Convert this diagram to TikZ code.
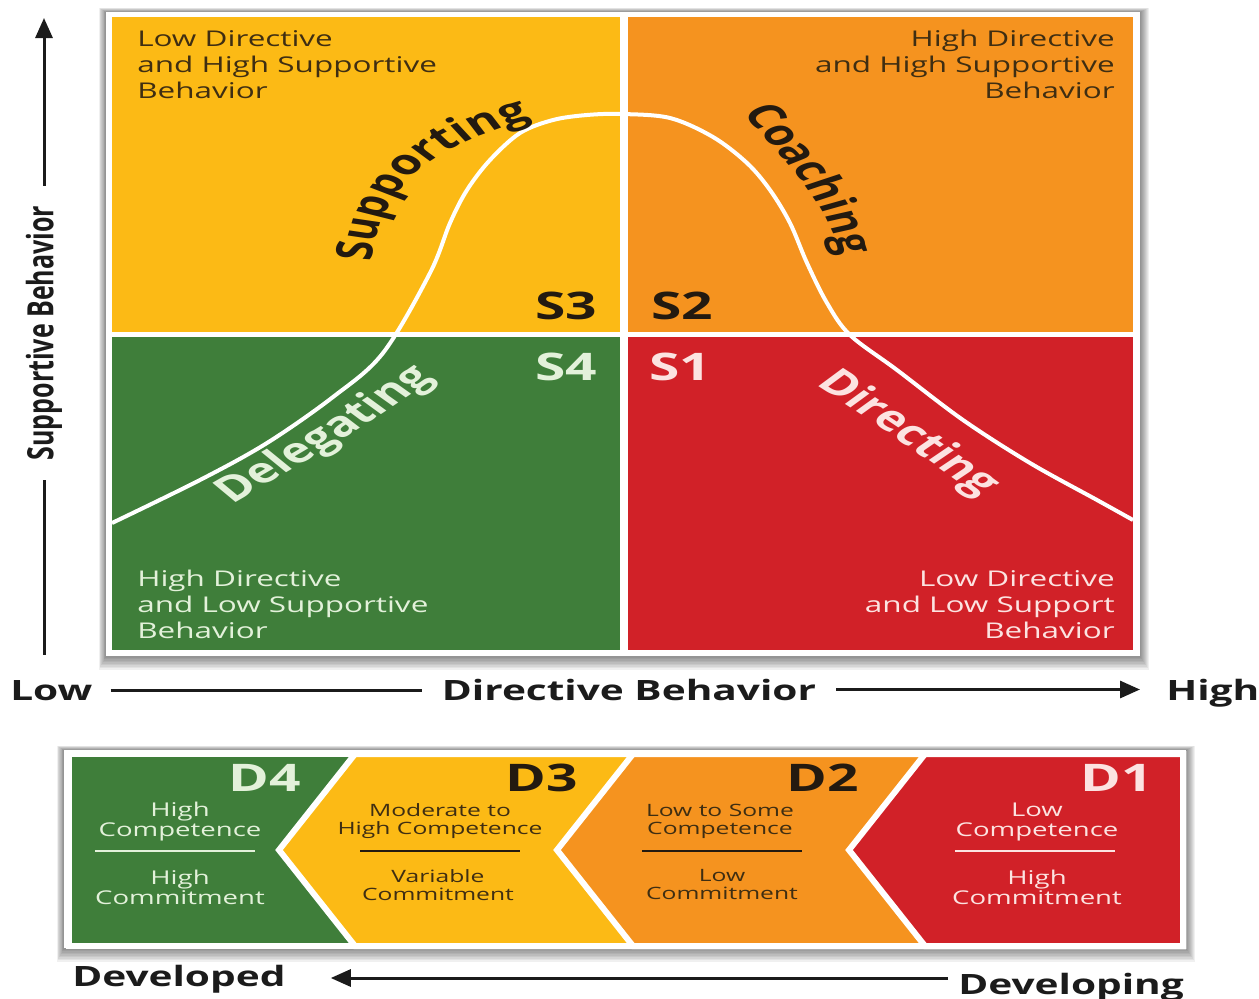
\documentclass[tikz,border=0pt]{standalone}
\usepackage{fontspec}
\setmainfont{Open Sans}
\usetikzlibrary{arrows.meta,positioning,decorations.text}
\definecolor{quadyellow}{HTML}{FCBA15}
\definecolor{quadorange}{HTML}{F5931F}
\definecolor{quadgreen}{HTML}{3F7E3A}
\definecolor{quadred}{HTML}{D12128}
\definecolor{inkdark}{HTML}{231A10}
\definecolor{inkbrown}{HTML}{3F2E12}
\definecolor{inkgreen}{HTML}{E3F1DA}
\definecolor{inkred}{HTML}{FCE3E1}
\definecolor{axisink}{HTML}{1B1B1B}
\newcommand{\curvelabel}{\bfseries\fontsize{35}{38}\selectfont}

\begin{document}
\begin{tikzpicture}[x=1pt, y=-1pt,
  every node/.style={inner sep=0pt},
  widetext/.style={xscale=1.45},
  desc/.style={widetext, font=\fontsize{21.7}{26}\selectfont},
  slabel/.style={widetext, font=\bfseries\fontsize{38}{40}\selectfont},
  dlabel/.style={widetext, font=\bfseries\fontsize{38}{40}\selectfont},
  dtext/.style={widetext, align=center, font=\fontsize{19}{20}\selectfont},
  dsmall/.style={widetext, align=center, font=\fontsize{17}{18}\selectfont},
  axislabel/.style={widetext, font=\bfseries\fontsize{28}{30}\selectfont, text=axisink},
  axisline/.style={draw=axisink, line width=3pt},
  axisarrow/.style={axisline, -{Triangle[length=20pt, width=17pt]}},
  curve/.style={draw=white, line width=4pt},
  panel/.style={fill=white},
  chevron/.style={draw=white, line width=6pt, line join=miter},
  divider/.style={line width=2.5pt}
]
  \useasboundingbox (0,0) rectangle (1259,999);

  % soft shadow round both panels
  \foreach \i in {1,...,9} {
    \fill[black, opacity=0.06] (106-0.8*\i, 12-0.5*\i) rectangle (1140+\i, 656+1.5*\i);
    \fill[black, opacity=0.06] (64-0.8*\i, 750-0.5*\i) rectangle (1186+\i, 948+1.5*\i);
  }

  % four quadrants
  \fill[panel] (106,12) rectangle (1140,656);
  \fill[quadyellow] (112,17) rectangle (620,332);
  \fill[quadorange] (628,17) rectangle (1133,332);
  \fill[quadgreen] (112,337) rectangle (620,650);
  \fill[quadred] (628,337) rectangle (1133,650);

  % bell curve
  \draw[curve] plot[smooth, tension=0.55] coordinates {
    (112,523) (200,480) (267,443) (333,397) (383,353) (430,273) (450,223)
    (467,190) (490,160) (520,133) (553,120) (587,115) (622,114) (670,118)
    (713,137) (747,163) (770,190) (790,223) (807,263) (827,303) (850,335)
    (897,370) (963,420) (1030,463) (1097,500) (1133,520)};

  % style names along the curve (letters widened like the rest of the type)
  \begin{scope}[x=0.68966pt, transform canvas={xscale=1.45}]
    \path[decorate, decoration={text along path, text={|\curvelabel|Supporting},
      text color=inkdark}]
      (372,262) .. controls (380,175) and (450,141) .. (535,118) -- (620,95);
    \path[decorate, decoration={text along path, text={|\curvelabel|Coaching},
      text color=inkdark}]
      (743,112) .. controls (781,157) and (822,197) .. (837,244) -- (862,320);
    \path[decorate, decoration={text along path, text={|\curvelabel|Delegating},
      text color=inkgreen}]
      (232,504) .. controls (300,465) and (380,420) .. (460,360) -- (520,310);
    \path[decorate, decoration={text along path, text={|\curvelabel|Directing},
      text color=inkred}]
      (815,385) .. controls (870,420) and (930,460) .. (1000,512) -- (1060,560);
  \end{scope}

  % quadrant numbers
  \node[slabel, text=inkdark] (s3) at (566,306) {S3};
  \node[slabel, text=inkdark] (s2) at (682,306) {S2};
  \node[slabel, text=inkgreen] (s4) at (566,367) {S4};
  \node[slabel, text=inkred] (s1) at (680,367) {S1};

  % quadrant descriptions
  \node[desc, anchor=north west, align=left, text=inkbrown] (lowhigh) at (137,30)
    {Low Directive\\and High Supportive\\Behavior};
  \node[desc, anchor=north east, align=right, text=inkbrown] (highhigh) at (1115,30)
    {High Directive\\and High Supportive\\Behavior};
  \node[desc, anchor=north west, align=left, text=inkgreen] (highlow) at (137,570)
    {High Directive\\and Low Supportive\\Behavior};
  \node[desc, anchor=north east, align=right, text=inkred] (lowlow) at (1115,570)
    {Low Directive\\and Low Support\\Behavior};

  % vertical axis
  \coordinate (ytop) at (44,18);
  \coordinate (ybot) at (44,655);
  \node[axislabel, font=\bfseries\fontsize{25}{27}\selectfont, rotate=90, inner xsep=20pt]
    (sup) at (44,333) {Supportive Behavior};
  \draw[axisarrow] (sup.east) -- (ytop);
  \draw[axisline] (sup.west) -- (ybot);

  % horizontal axis
  \node[axislabel, anchor=base west] (low) at (10,700) {Low};
  \node[axislabel, anchor=base] (dirbeh) at (629,700) {Directive Behavior};
  \node[axislabel, anchor=base west] (high) at (1166,700) {High};
  \draw[axisline, shorten <=18pt, shorten >=20pt] (low.east) -- (low.east -| dirbeh.west);
  \draw[axisarrow, shorten <=20pt, shorten >=26pt] (dirbeh.east) -- (high.west |- dirbeh.east);

  % development chevrons
  \fill[panel] (64,750) rectangle (1186,948);
  \filldraw[chevron, fill=quadgreen] (69,754) -- (1183,754) -- (1183,946) -- (69,946) -- cycle;
  \filldraw[chevron, fill=quadyellow] (355,754) -- (1183,754) -- (1183,946) -- (355,946) -- (279,850) -- cycle;
  \filldraw[chevron, fill=quadorange] (633,754) -- (1183,754) -- (1183,946) -- (633,946) -- (557,850) -- cycle;
  \filldraw[chevron, fill=quadred] (925,754) -- (1183,754) -- (1183,946) -- (925,946) -- (849,850) -- cycle;

  \node[dlabel, text=inkgreen] (d4) at (265,778) {D4};
  \node[dlabel, text=inkdark] (d3) at (542,778) {D3};
  \node[dlabel, text=inkdark] (d2) at (823,778) {D2};
  \node[dlabel, text=inkred] (d1) at (1117,778) {D1};

  \node[dtext, text=inkgreen] (d4comp) at (180,822) {High\\Competence};
  \node[dtext, text=inkgreen] (d4comm) at (180,887) {High\\Commitment};
  \draw[divider, draw=inkgreen] (95,851) -- (255,851);

  \node[dsmall, text=inkbrown] (d3comp) at (440,821) {Moderate to\\High Competence};
  \node[dsmall, text=inkbrown] (d3comm) at (438,885) {Variable\\Commitment};
  \draw[divider, draw=inkdark] (360,851) -- (520,851);

  \node[dsmall, text=inkbrown] (d2comp) at (720,821) {Low to Some\\Competence};
  \node[dsmall, text=inkbrown] (d2comm) at (722,885) {Low\\Commitment};
  \draw[divider, draw=inkdark] (642,851) -- (802,851);

  \node[dtext, text=inkred] (d1comp) at (1037,822) {Low\\Competence};
  \node[dtext, text=inkred] (d1comm) at (1037,887) {High\\Commitment};
  \draw[divider, draw=inkred] (955,851) -- (1115,851);

  % development axis
  \node[axislabel, anchor=base west] (developed) at (72,986) {Developed};
  \node[axislabel, anchor=base west] (developing) at (958,994) {Developing};
  \coordinate (devline) at (600,978);
  \draw[axisarrow, shorten <=10pt, shorten >=45pt]
    (developing.west |- devline) -- (developed.east |- devline);
\end{tikzpicture}
\end{document}
